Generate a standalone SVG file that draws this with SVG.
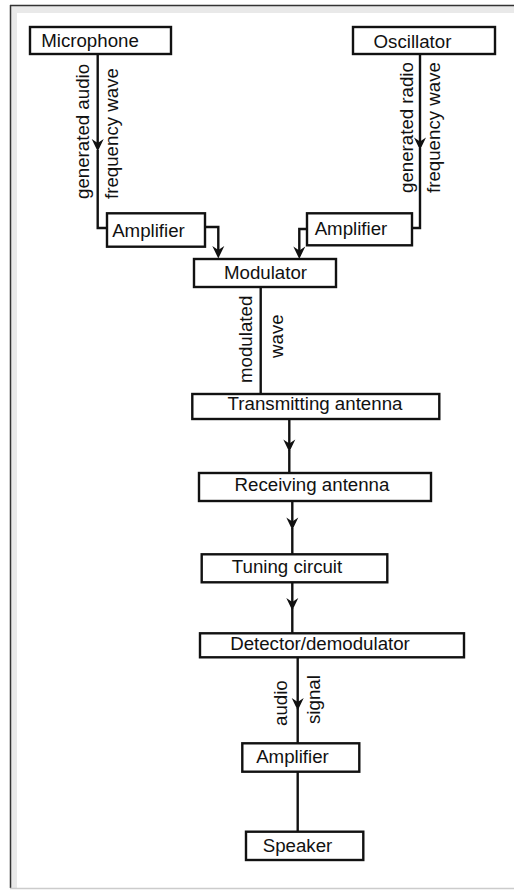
<svg xmlns="http://www.w3.org/2000/svg" width="514" height="890" viewBox="0 0 514 890">
<style>
.box{fill:#fff;stroke:#111;stroke-width:2.4}
.lbl{font-family:"Liberation Sans",Arial,sans-serif;font-size:18.7px;fill:#111;text-anchor:middle}
.rot{font-family:"Liberation Sans",Arial,sans-serif;font-size:18.7px;fill:#111;text-anchor:start}
.ln{fill:none;stroke:#111;stroke-width:2.4}
.arr{marker-end:url(#ah)}
</style>
<defs>
<marker id="ah" markerUnits="userSpaceOnUse" viewBox="-11 -8 16 16" refX="0" refY="0" markerWidth="16" markerHeight="16" orient="auto">
<path d="M3.5,0 L-9,-6 L-5,0 L-9,6 Z" fill="#111"/>
</marker>
</defs>
<rect x="0" y="0" width="514" height="890" fill="#fff"/>
<g id="frame">
<rect x="11" y="6" width="503" height="7" fill="#e9e9e9"/>
<rect x="11" y="6" width="6" height="882" fill="#e9e9e9"/>
<line x1="10" y1="5.5" x2="514" y2="5.5" stroke="#333" stroke-width="1.5"/>
<line x1="10.5" y1="5" x2="10.5" y2="888" stroke="#333" stroke-width="1.5"/>
<line x1="10" y1="888.5" x2="514" y2="888.5" stroke="#ccc" stroke-width="1.5"/>
</g>
<g id="connectors">
<path class="ln arr" d="M97.7,54 V148"/>
<path class="ln" d="M97.7,150 V228 H107"/>
<path class="ln arr" d="M420,54 V146.5"/>
<path class="ln" d="M420,148 V228 H412"/>
<path class="ln arr" d="M205,227 H218.3 V255"/>
<path class="ln arr" d="M307,229 H299.3 V255.5"/>
<path class="ln" d="M260.7,287 V394"/>
<path class="ln arr" d="M289.3,419 V448.5"/>
<path class="ln" d="M289.3,450 V473"/>
<path class="ln arr" d="M292.3,501 V526.5"/>
<path class="ln" d="M292.3,528 V554"/>
<path class="ln arr" d="M292.3,582 V607"/>
<path class="ln" d="M292.3,608 V633"/>
<path class="ln arr" d="M297.7,657 V707"/>
<path class="ln" d="M297.7,708 V743"/>
<path class="ln" d="M297.7,772 V832"/>
<text class="rot" transform="translate(89,199) rotate(-90)">generated audio</text>
<text class="rot" transform="translate(118,199) rotate(-90)">frequency wave</text>
<text class="rot" transform="translate(413,193) rotate(-90)">generated radio</text>
<text class="rot" transform="translate(440,193) rotate(-90)">frequency wave</text>
<text class="rot" transform="translate(252,383) rotate(-90)">modulated</text>
<text class="rot" transform="translate(282.5,358) rotate(-90)">wave</text>
<text class="rot" transform="translate(286.5,726) rotate(-90)">audio</text>
<text class="rot" transform="translate(320,724) rotate(-90)">signal</text>
</g>
<g id="microphone"><rect class="box" x="30" y="27" width="141" height="27"/><text class="lbl" x="90" y="47">Microphone</text></g>
<g id="oscillator"><rect class="box" x="353" y="27" width="142" height="27"/><text class="lbl" x="412.5" y="48">Oscillator</text></g>
<g id="amplifier-left"><rect class="box" x="107" y="213.3" width="98" height="33.4"/><text class="lbl" x="148.5" y="237">Amplifier</text></g>
<g id="amplifier-right"><rect class="box" x="307" y="213.3" width="105" height="32"/><text class="lbl" x="351" y="235">Amplifier</text></g>
<g id="modulator"><rect class="box" x="194" y="259" width="142" height="28"/><text class="lbl" x="265.5" y="279">Modulator</text></g>
<g id="transmitting-antenna"><rect class="box" x="192.3" y="394" width="247" height="25"/><text class="lbl" x="315" y="410">Transmitting antenna</text></g>
<g id="receiving-antenna"><rect class="box" x="199" y="473" width="232" height="28"/><text class="lbl" x="312" y="491">Receiving antenna</text></g>
<g id="tuning-circuit"><rect class="box" x="201.7" y="554.3" width="185.6" height="28"/><text class="lbl" x="287" y="573">Tuning circuit</text></g>
<g id="detector"><rect class="box" x="200" y="633.3" width="264" height="24"/><text class="lbl" x="320" y="650">Detector/demodulator</text></g>
<g id="amplifier-bottom"><rect class="box" x="242.3" y="743.3" width="117" height="28.4"/><text class="lbl" x="292.5" y="763">Amplifier</text></g>
<g id="speaker"><rect class="box" x="246" y="831.7" width="117.3" height="28.3"/><text class="lbl" x="297.5" y="852">Speaker</text></g>
</svg>
